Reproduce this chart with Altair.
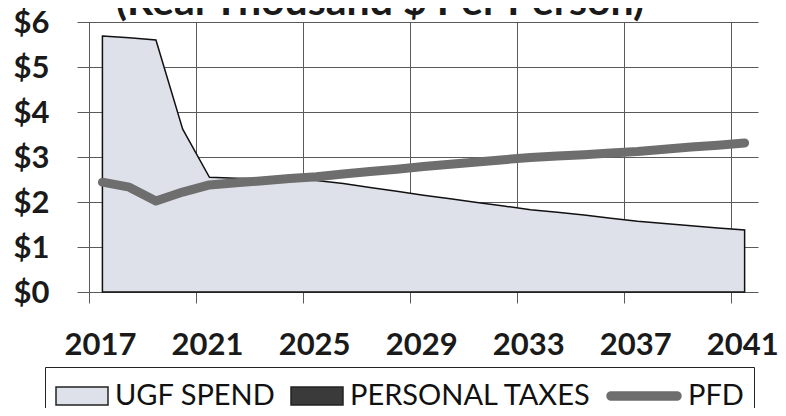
import altair as alt
import pandas as pd

years = list(range(2017, 2042))
ugf_spend = [5.69, 5.65, 5.60, 3.62, 2.55, 2.53, 2.52, 2.50, 2.48, 2.41, 2.32, 2.24, 2.15,
             2.07, 1.99, 1.91, 1.83, 1.77, 1.71, 1.64, 1.57, 1.52, 1.47, 1.42, 1.38]
pfd = [2.44, 2.33, 2.02, 2.22, 2.38, 2.43, 2.47, 2.52, 2.56, 2.62, 2.68, 2.73, 2.79,
       2.84, 2.89, 2.94, 2.99, 3.02, 3.05, 3.09, 3.12, 3.17, 3.22, 3.26, 3.31]
series = ["UGF SPEND", "PERSONAL TAXES", "PFD"]
tick_years = [2017, 2021, 2025, 2029, 2033, 2037, 2041]
y_ticks = [0, 1, 2, 3, 4, 5, 6]
title_text = "(Real Thousand $ Per Person)"

FONT = "Lato"
GRID = "#5a5a5a"
UGF_FILL = "#dfe1ea"
PFD_COLOR = "#6e6e6e"
TAX_COLOR = "#3a3a3a"

df = pd.DataFrame({"year": years, "ugf": ugf_spend, "pfd": pfd})
legend_df = pd.DataFrame({"series": series})
title_df = pd.DataFrame({"t": [title_text]})

x_scale = alt.Scale(domain=[2016.55, 2042.0], nice=False, zero=False)
y_scale = alt.Scale(domain=[0, 6], nice=False)

x_axis = alt.Axis(values=tick_years, format="d", grid=True, gridColor=GRID, gridWidth=1,
                  ticks=True, tickSize=11, tickColor=GRID, tickWidth=1,
                  domain=False, title=None, labelFlush=False, labelOverlap=False,
                  labelBound=False, labelOffset=11, labelPadding=27,
                  labelFont=FONT, labelFontSize=31, labelFontWeight="bold",
                  labelColor="#1a1a1a")
y_axis = alt.Axis(values=y_ticks, labelExpr="'$' + datum.value", grid=True,
                  gridColor=GRID, gridWidth=1, ticks=False, tickSize=0, domain=False,
                  title=None, labelAlign="left", labelBaseline="middle", labelPadding=64,
                  labelOffset=1,
                  labelFont=FONT, labelFontSize=31, labelFontWeight="bold",
                  labelColor="#1a1a1a", labelFlush=False, labelOverlap=False)

base = alt.Chart(df).transform_calculate(xpos="datum.year + 0.5")

area = base.mark_area(fill=UGF_FILL, stroke="#111111", strokeWidth=1.5,
                      strokeJoin="miter").encode(
    x=alt.X("xpos:Q", scale=x_scale, axis=x_axis),
    y=alt.Y("ugf:Q", scale=y_scale, axis=y_axis),
)

line = base.mark_line(color=PFD_COLOR, strokeWidth=9, strokeCap="round",
                      strokeJoin="round").encode(
    x=alt.X("xpos:Q", scale=x_scale, axis=x_axis),
    y=alt.Y("pfd:Q", scale=y_scale, axis=y_axis),
)

rect_path = "M-1,-0.35H1V0.35H-1Z"
line_path = ("M-0.89,-0.11H0.89A0.11,0.11 0 0 1 0.89,0.11H-0.89"
             "A0.11,0.11 0 0 1 -0.89,-0.11Z")

leg = alt.Legend(orient="none", legendX=-32, legendY=345, direction="horizontal",
                 title=None, labelFont=FONT, labelFontSize=29, labelColor="#111111",
                 labelOffset=6, columnPadding=14, padding=10, strokeColor="#222222",
                 clipHeight=38, symbolStrokeWidth=1.5, labelLimit=0, symbolOpacity=1,
                 symbolOffset=0)

legend_layer = alt.Chart(legend_df).mark_point(filled=True, opacity=0).encode(
    x=alt.value(0), y=alt.value(0),
    color=alt.Color("series:N", scale=alt.Scale(domain=series,
                    range=[UGF_FILL, TAX_COLOR, PFD_COLOR]), legend=leg),
    stroke=alt.Stroke("series:N", scale=alt.Scale(domain=series,
                      range=["#222222", "#222222", PFD_COLOR]), legend=leg),
    shape=alt.Shape("series:N", scale=alt.Scale(domain=series,
                    range=[rect_path, rect_path, line_path]), legend=leg),
    size=alt.Size("series:N", scale=alt.Scale(type="ordinal", domain=series,
                  range=[2704, 2704, 5476]), legend=leg),
)

title_layer = alt.Chart(title_df).mark_text(font=FONT, fontSize=41, fontWeight="bold",
                                            align="center", baseline="alphabetic",
                                            color="#1a1a1a").encode(
    text="t:N", x=alt.value(303), y=alt.value(-7))

chart = alt.layer(area, line, legend_layer, title_layer).properties(
    width=681, height=270,
    autosize=alt.AutoSizeParams(type="none"),
    padding={"left": 69, "top": 14, "right": 20, "bottom": 116},
    background="white",
).configure_view(stroke=None)

chart.save("out.html", embed_options={"renderer": "svg", "actions": False})
